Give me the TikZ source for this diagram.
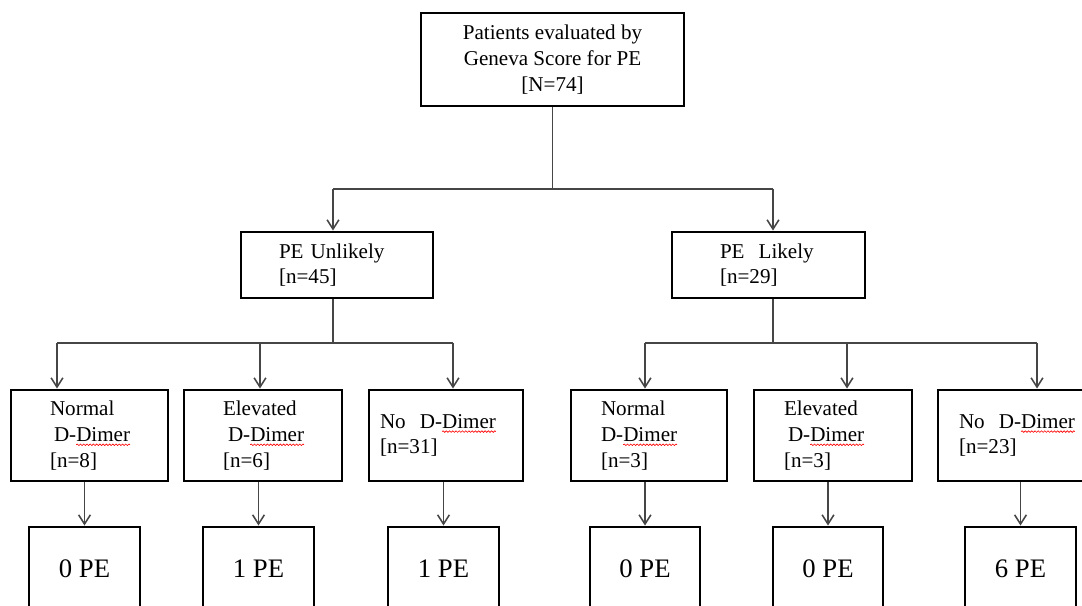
\documentclass[tikz,border=0pt]{standalone}
\usepackage{fontspec}
\setmainfont{Liberation Serif}
\usepackage{tikz}
\usetikzlibrary{arrows.meta,decorations.pathmorphing}

\definecolor{linegray}{RGB}{70,70,70}
\newsavebox{\wavybox}
\newlength{\wavylen}
\newcommand{\wavy}[1]{\sbox{\wavybox}{#1}\setlength{\wavylen}{\wd\wavybox}%
  \rlap{\tikz[overlay,baseline=0pt]\draw[red,line width=0.45pt,decorate,
    decoration={snake,amplitude=0.55pt,segment length=2.3pt}] (0,-2.4pt) -- (\wavylen,-2.4pt);}#1}
\newcommand{\ddimer}{\mbox{D-\wavy{Dimer}}}

\begin{document}
\begin{tikzpicture}[
    box/.style={draw, line width=2.1pt, inner sep=0pt, align=left, font=\fontsize{15}{18.3}\selectfont},
    pebox/.style={draw, line width=2.1pt, inner sep=0pt, minimum width=2.775cm, minimum height=2.075cm, font=\fontsize{19}{23}\selectfont},
    line/.style={draw=linegray, line width=1.1pt},
    arr/.style={line, -{Straight Barb[length=6.6pt,width=8.4pt]}}]
\path [fill=white, use as bounding box] (0,0) rectangle (27.05,15.125);

\node [box, align=center, minimum width=6.575cm, minimum height=2.325cm] (geneva) at (13.8125,13.6375)
    {Patients evaluated by\\Geneva Score for PE\\{}[N=74]};

\node [box, text width=2.9cm, minimum width=4.8cm, minimum height=1.65cm] (unlikely) at (8.425,8.5)
    {PE Unlikely\\{}[n=45]};
\node [box, text width=2.425cm, minimum width=4.825cm, minimum height=1.65cm] (likely) at (19.2125,8.5)
    {PE\ \ Likely\\{}[n=29]};

\node [box, text width=1.975cm, minimum width=3.925cm, minimum height=2.275cm] (left1) at (2.2375,4.2375)
    {Normal\\\hspace*{0.1cm}\ddimer\\{}[n=8]};
\node [box, text width=2cm, minimum width=3.95cm, minimum height=2.275cm] (left2) at (6.575,4.2375)
    {Elevated\\\hspace*{0.125cm}\ddimer\\{}[n=6]};
\node [box, text width=3.3cm, minimum width=3.85cm, minimum height=2.275cm] (left3) at (11.15,4.2375)
    {\mbox{No\ \ \ddimer}\\{}[n=31]};
\node [box, text width=2.4cm, minimum width=3.9cm, minimum height=2.275cm] (right1) at (16.225,4.2375)
    {Normal\\\ddimer\\{}[n=3]};
\node [box, text width=2.45cm, minimum width=3.95cm, minimum height=2.275cm] (right2) at (20.825,4.2375)
    {Elevated\\\hspace*{0.1cm}\ddimer\\{}[n=3]};
\node [box, text width=2.75cm, minimum width=3.8cm, minimum height=2.275cm] (right3) at (25.35,4.2375)
    {\mbox{No\ \ \ddimer}\\{}[n=23]};

\node [pebox] (pe1) at (2.1125,0.9125) {0 PE};
\node [pebox] (pe2) at (6.4625,0.9125) {1 PE};
\node [pebox] (pe3) at (11.0875,0.9125) {1 PE};
\node [pebox, minimum width=2.75cm] (pe4) at (16.125,0.9125) {0 PE};
\node [pebox, minimum width=2.75cm] (pe5) at (20.7,0.9125) {0 PE};
\node [pebox] (pe6) at (25.5125,0.9125) {6 PE};

% first split
\coordinate (tU) at (8.325,10.4);
\coordinate (tL) at (19.325,10.4);
\draw [line] (geneva.south) -- (geneva.south |- tU);
\draw [line] (tU) -- (tL);
\draw [arr] (tU) -- (tU |- unlikely.north);
\draw [arr] (tL) -- (tL |- likely.north);

% second split
\coordinate (a1) at (1.425,6.55);
\coordinate (a2) at (6.5,6.55);
\coordinate (a3) at (11.325,6.55);
\coordinate (a4) at (16.125,6.55);
\coordinate (a5) at (21.175,6.55);
\coordinate (a6) at (25.925,6.55);
\draw [line] (tU |- unlikely.south) -- (tU |- a1);
\draw [line] (tL |- likely.south) -- (tL |- a4);
\draw [line] (a1) -- (a3);
\draw [line] (a4) -- (a6);
\draw [arr] (a1) -- (a1 |- left1.north);
\draw [arr] (a2) -- (a2 |- left2.north);
\draw [arr] (a3) -- (a3 |- left3.north);
\draw [arr] (a4) -- (a4 |- right1.north);
\draw [arr] (a5) -- (a5 |- right2.north);
\draw [arr] (a6) -- (a6 |- right3.north);

% outcomes
\draw [arr] (pe1.north |- left1.south) -- (pe1.north);
\draw [arr] (pe2.north |- left2.south) -- (pe2.north);
\draw [arr] (pe3.north |- left3.south) -- (pe3.north);
\draw [arr] (pe4.north |- right1.south) -- (pe4.north);
\draw [arr] (pe5.north |- right2.south) -- (pe5.north);
\draw [arr] (pe6.north |- right3.south) -- (pe6.north);
\end{tikzpicture}
\end{document}
